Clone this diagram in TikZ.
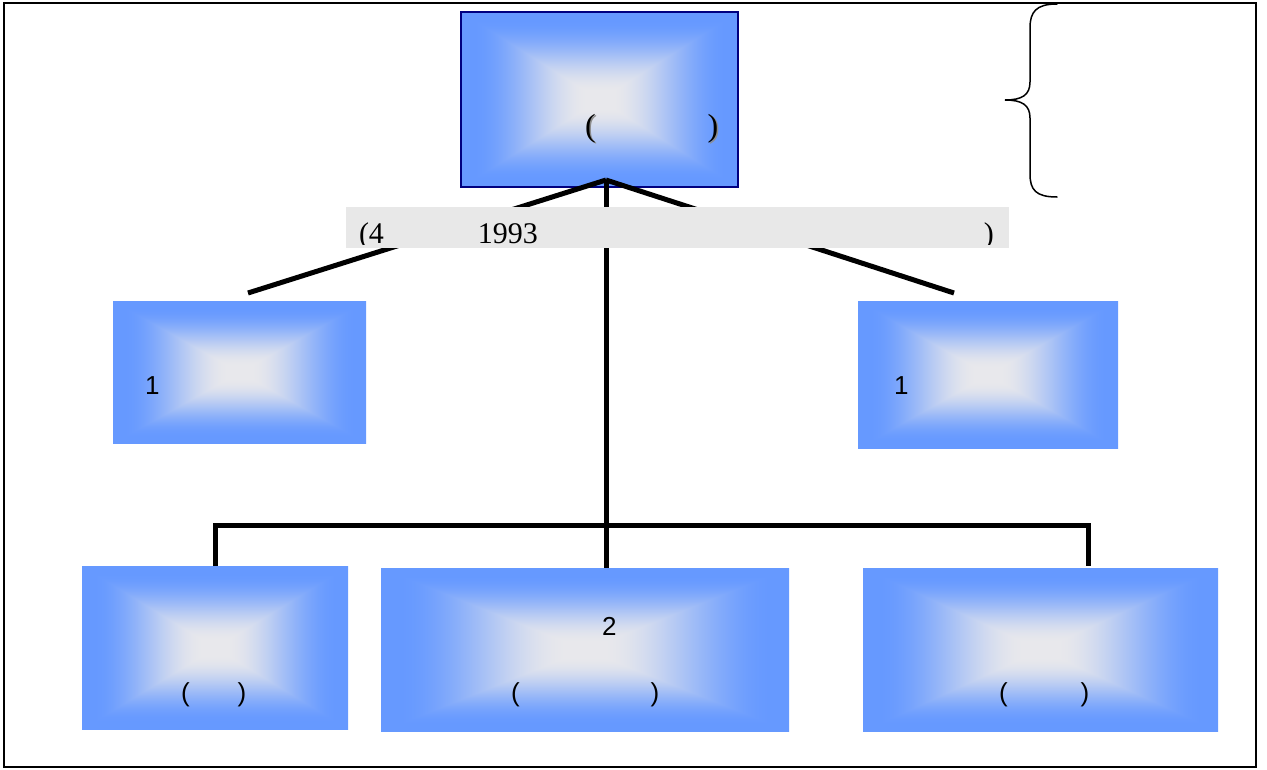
\documentclass[tikz,border=0pt]{standalone}
\usepackage{fontspec}
\setmainfont{Liberation Serif}
\newfontfamily\sansf{Liberation Sans}
\definecolor{bandgray}{HTML}{E8E8E8}
\definecolor{navyb}{HTML}{000080}
% rectangular gradient: light centre (E8E8EC) to blue edges (6699FF)
\pgfdeclarefunctionalshading{rectgrad}{\pgfpointorigin}{\pgfpoint{100bp}{100bp}}{}{
  50 sub abs exch 50 sub abs
  2 copy lt {exch} if pop
  25 div
  0.08 sub 0.84 div
  dup 0 lt {pop 0} if
  dup 1 gt {pop 1} if
  dup dup mul exch 2 mul 3 exch sub mul
  dup dup -0.510 mul 0.910 add 3 1 roll -0.310 mul 0.910 add exch 0.075 mul 0.925 add
}
\tikzset{
  gbox/.style={shading=rectgrad, rectangle, inner sep=0pt, outer sep=0pt},
  topbox/.style={gbox, draw=navyb, line width=1.5pt},
  conn/.style={line width=5pt, black},
  bandbox/.style={rectangle, fill=bandgray, inner sep=0pt, outer sep=0pt},
  serift/.style={inner sep=0pt, outer sep=0pt, anchor=base west, font=\fontsize{32}{36}\selectfont},
  bandt/.style={inner sep=0pt, outer sep=0pt, anchor=base west, font=\fontsize{30}{34}\selectfont},
  sanst/.style={inner sep=0pt, outer sep=0pt, anchor=base west, font=\sansf\fontsize{26}{30}\selectfont},
  bracep/.style={line width=1.5pt, black, line cap=round},
  frame/.style={line width=2pt, black}
}
\begin{document}
\begin{tikzpicture}[x=1pt,y=-1pt]
\useasboundingbox (0,0) rectangle (1267,769);
\draw[frame] (4,3) rectangle (1256,767);

% boxes
\node[topbox, minimum width=277pt, minimum height=175pt] (top) at (599.5,99.5) {};
\node[gbox, minimum width=253pt, minimum height=142pt] (l1) at (239.5,372) {};
\node[gbox, minimum width=260pt, minimum height=147pt] (r1) at (988,374.5) {};
\node[gbox, minimum width=266pt, minimum height=163pt] (b1) at (215,647.5) {};
\node[gbox, minimum width=408pt, minimum height=163pt] (b2) at (585,649.5) {};
\node[gbox, minimum width=355pt, minimum height=163pt] (b3) at (1040.5,649.5) {};

% connectors
\coordinate (apex) at (606,180);
\coordinate (lend) at (248,293);
\coordinate (rend) at (954,293);
\coordinate (barl) at (215,525);
\coordinate (barr) at (1088,525);
\coordinate (b3top) at (1088,566);
\draw[conn] (apex) -- (lend);
\draw[conn] (apex) -- (rend);
\draw[conn] (apex) -- (apex |- b2.north);
\draw[conn] (b1.north) -- (barl) -- (barr) -- (b3top);

% band
\node[bandbox, minimum width=663pt, minimum height=41pt] (band) at (677.5,227.5) {};
\begin{scope}
\clip (346,207) rectangle (1009,244);
\node[bandt] (bandtext) at (359,243.5) {(4\hspace{94pt}1993\hspace{446pt})};
\end{scope}

% brace
\draw[bracep] (1057,4) .. controls (1036,4) and (1030,12) .. (1030,28) -- (1030,82)
  .. controls (1030,95) and (1022,100) .. (1005,100)
  .. controls (1022,100) and (1030,105) .. (1030,118) -- (1030,174)
  .. controls (1030,190) and (1036,197) .. (1057,197);

% texts
\node[serift, text=black!45] (topshadow) at (586.5,137.5) {(\hspace{112pt})};
\node[serift] (toptext) at (585,136) {(\hspace{112pt})};
\node[sanst] (l1text) at (145,394) {1};
\node[sanst] (r1text) at (894,394) {1};
\node[sanst] (b2num) at (602,635) {2};
\node[sanst] (b1text) at (181,701) {(\hspace{48pt})};
\node[sanst] (b2text) at (511,701) {(\hspace{131pt})};
\node[sanst] (b3text) at (999,701) {(\hspace{73pt})};
\end{tikzpicture}
\end{document}
